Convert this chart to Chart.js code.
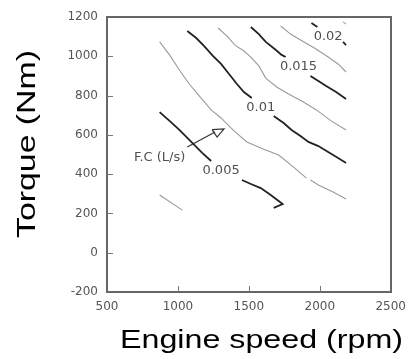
<!DOCTYPE html>
<html>
<head>
<meta charset="utf-8">
<script src="https://cdn.jsdelivr.net/npm/chart.js@4.4.0/dist/chart.umd.min.js"></script>
<style>
  body { margin: 0; background: #fff; }
  canvas { display: block; }
</style>
</head>
<body>
<canvas id="fuelMap" width="414" height="359"></canvas>
<script>
// axis ranges / ticks
const speedTicks = [500, 1000, 1500, 2000, 2500]
const torqueTicks = [-200, 0, 200, 400, 600, 800, 1000, 1200]

// contour lines, [engine speed rpm, torque Nm]
const grayA1 = [[871,1073],[941,1007],[1010,930],[1080,859],[1150,798],[1234,727],[1304,686],[1395,620],[1486,564],[1605,527],[1710,497],[1815,436],[1906,380]]
const grayA2 = [[1934,370],[1990,345],[2094,309],[2185,273]]
const black10a = [[1066,1129],[1129,1093],[1185,1052],[1248,1001],[1304,961],[1360,910],[1416,859],[1465,818],[1521,788]]
const black10b = [[1675,696],[1745,660],[1801,625],[1864,594],[1920,564],[1990,543],[2059,513],[2129,482],[2185,457]]
const grayC = [[1283,1144],[1346,1103],[1402,1057],[1465,1027],[1514,996],[1570,951],[1619,889],[1696,844],[1780,808],[1885,767],[1976,727],[2080,671],[2185,625]]
const black15a = [[1514,1149],[1570,1113],[1619,1073],[1682,1037],[1731,1007],[1759,996]]
const black15b = [[1934,900],[1990,874],[2045,849],[2115,818],[2185,783]]
const grayE = [[1724,1154],[1794,1113],[1864,1083],[1962,1042],[2059,996],[2129,961],[2185,920]]
const black20a = [[1941,1169],[1983,1149]]
const black20b = [[2164,1073],[2185,1057]]
const grayG = [[2164,1175],[2185,1164]]
const black05a = [[871,716],[941,671],[1010,625],[1101,559],[1171,508],[1234,467]]
const black05b = [[1451,370],[1514,350],[1584,329],[1654,294],[1710,263],[1738,248],[1675,228]]
const grayI = [[871,294],[1031,217]]
const arrowShaft = [[1066,538],[1262,615]]
const arrowHead = [[1241,627],[1325,630],[1276,589],[1241,627]]

// contour labels
const labelText = ['0.005', '0.01', '0.015', '0.02', 'F.C (L/s)']
const labelSpeed = [1304, 1584, 1850, 2059, 871]
const labelTorque = [416, 737, 945, 1098, 482]

const BLACK = '#222'
const GRAY = '#9a9a9a'
const FRAME = '#666'

const toPoints = (arr) => arr.map(([x, y]) => ({x, y}))

const lineSet = (arr, color, width) => ({
    data: toPoints(arr),
    showLine: true,
    pointRadius: 0,
    borderColor: color,
    borderWidth: width,
    tension: 0,
    fill: false
})

const datasets = [
    lineSet(grayA1, GRAY, 1.1),
    lineSet(grayA2, GRAY, 1.1),
    lineSet(grayC, GRAY, 1.1),
    lineSet(grayE, GRAY, 1.1),
    lineSet(grayG, GRAY, 1.1),
    lineSet(grayI, GRAY, 1.1),
    lineSet(black10a, BLACK, 1.8),
    lineSet(black10b, BLACK, 1.8),
    lineSet(black15a, BLACK, 1.8),
    lineSet(black15b, BLACK, 1.8),
    lineSet(black20a, BLACK, 1.8),
    lineSet(black20b, BLACK, 1.8),
    lineSet(black05a, BLACK, 1.8),
    lineSet(black05b, BLACK, 1.8),
    lineSet(arrowShaft, '#333', 1.2),
    lineSet(arrowHead, '#333', 1.2),
]

// inner tick marks, contour labels and axis titles
const decorPlugin = {
    id: 'decor',
    afterDraw(chart) {
        const c = chart.ctx
        const a = chart.chartArea
        const xs = chart.scales.x
        const ys = chart.scales.y
        c.save()
        c.lineWidth = 1
        c.strokeStyle = '#777'
        c.beginPath()
        torqueTicks.slice(1, -1).forEach(v => {
            const y = Math.round(ys.getPixelForValue(v)) + 0.5
            c.moveTo(a.left, y)
            c.lineTo(a.left + 6, y)
        })
        speedTicks.slice(1, -1).forEach(v => {
            const x = Math.round(xs.getPixelForValue(v)) + 0.5
            c.moveTo(x, a.bottom)
            c.lineTo(x, a.bottom - 6)
        })
        c.stroke()

        c.fillStyle = '#505050'
        c.font = '13px "DejaVu Sans"'
        c.textAlign = 'center'
        c.textBaseline = 'middle'
        labelText.forEach((t, i) => {
            c.fillText(t, xs.getPixelForValue(labelSpeed[i]), ys.getPixelForValue(labelTorque[i]))
        })

        c.fillStyle = '#000'
        c.textBaseline = 'alphabetic'
        // x title, stretched like the source
        let t = 'Engine speed (rpm)'
        c.font = '26px "Liberation Sans"'
        let w = c.measureText(t).width
        c.save()
        c.translate(261.5, 348)
        c.scale(283 / w, 1)
        c.fillText(t, 0, 0)
        c.restore()
        // y title
        t = 'Torque (Nm)'
        c.font = '25px "Liberation Sans"'
        w = c.measureText(t).width
        c.save()
        c.translate(35, 144)
        c.rotate(-Math.PI / 2)
        c.scale(188 / w, 1)
        c.fillText(t, 0, 0)
        c.restore()
        c.restore()
    }
}

const tickFont = {family: 'DejaVu Sans', size: 12}
const frameBorder = {display: true, color: FRAME, width: 2}

const ctx = document.getElementById('fuelMap').getContext('2d')
new Chart(ctx, {
    type: 'scatter',
    data: {datasets},
    options: {
        responsive: false,
        animation: false,
        layout: {padding: {top: 17, right: 21, left: 0, bottom: 0}},
        plugins: {
            legend: {display: false},
            tooltip: {enabled: false}
        },
        scales: {
            x: {
                type: 'linear',
                min: speedTicks[0],
                max: speedTicks[speedTicks.length - 1],
                afterBuildTicks: (s) => { s.ticks = speedTicks.map(v => ({value: v})) },
                grid: {display: false, drawTicks: false},
                border: frameBorder,
                ticks: {color: '#555', padding: 8, font: tickFont, maxRotation: 0, callback: (v) => String(v)},
                afterFit: (s) => { s.height = 67 }
            },
            y: {
                type: 'linear',
                min: torqueTicks[0],
                max: torqueTicks[torqueTicks.length - 1],
                afterBuildTicks: (s) => { s.ticks = torqueTicks.map(v => ({value: v})) },
                grid: {display: false, drawTicks: false},
                border: frameBorder,
                ticks: {color: '#555', padding: 9, font: tickFont, callback: (v) => String(v)},
                afterFit: (s) => { s.width = 107 }
            },
            xTop: {
                type: 'linear',
                position: 'top',
                min: speedTicks[0],
                max: speedTicks[speedTicks.length - 1],
                grid: {display: false, drawTicks: false},
                border: frameBorder,
                ticks: {display: false},
                afterFit: (s) => { s.height = 0 }
            },
            yRight: {
                type: 'linear',
                position: 'right',
                min: torqueTicks[0],
                max: torqueTicks[torqueTicks.length - 1],
                grid: {display: false, drawTicks: false},
                border: frameBorder,
                ticks: {display: false},
                afterFit: (s) => { s.width = 0 }
            }
        }
    },
    plugins: [decorPlugin]
})
</script>
</body>
</html>
